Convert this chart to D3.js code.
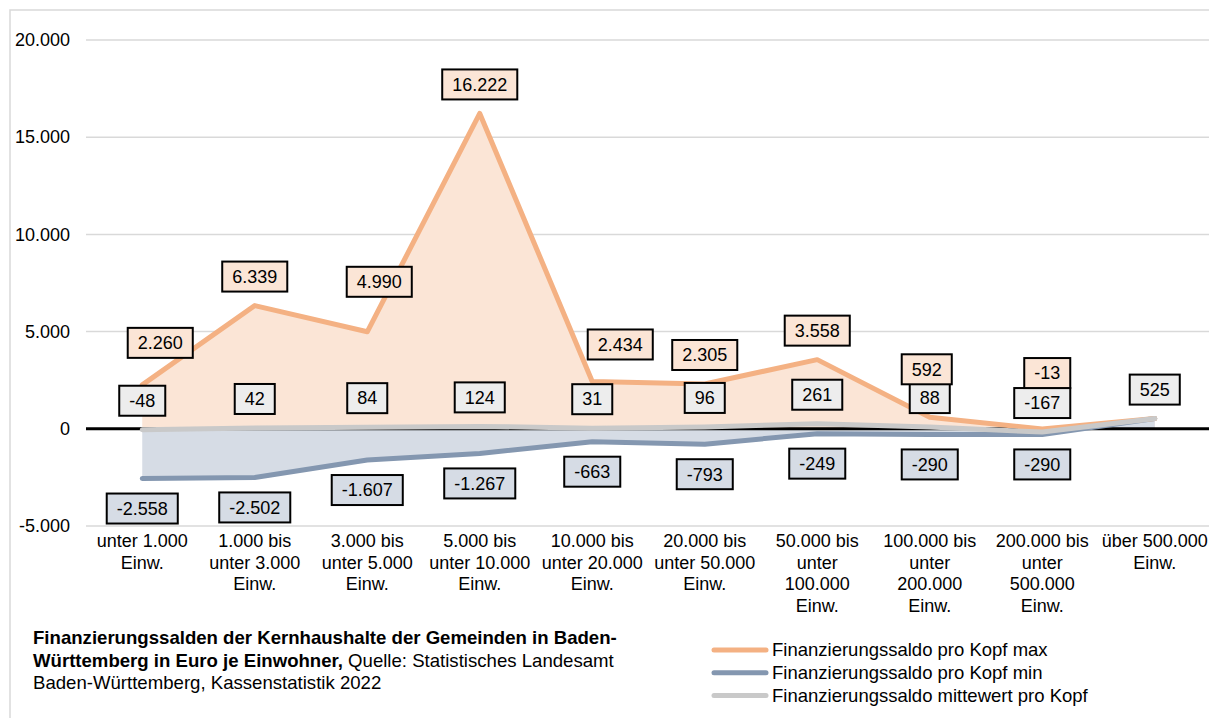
<!DOCTYPE html>
<html>
<head>
<meta charset="utf-8">
<script src="https://cdn.jsdelivr.net/npm/d3@7"></script>
<style>
  body { margin: 0; background: #fff; }
  text { font-family: "Liberation Sans", Arial, sans-serif; fill: #000; }
  .narrow { font-family: "Liberation Sans Narrow", "Arial Narrow", "Liberation Sans", sans-serif; }
</style>
</head>
<body>
<div id="chart"></div>
<script>
const categories = [
  "unter 1.000\nEinw.",
  "1.000 bis\nunter 3.000\nEinw.",
  "3.000 bis\nunter 5.000\nEinw.",
  "5.000 bis\nunter 10.000\nEinw.",
  "10.000 bis\nunter 20.000\nEinw.",
  "20.000 bis\nunter 50.000\nEinw.",
  "50.000 bis\nunter\n100.000\nEinw.",
  "100.000 bis\nunter\n200.000\nEinw.",
  "200.000 bis\nunter\n500.000\nEinw.",
  "über 500.000\nEinw."
]
const maxValues = [2260, 6339, 4990, 16222, 2434, 2305, 3558, 592, -13, 525]
const minValues = [-2558, -2502, -1607, -1267, -663, -793, -249, -290, -290, 525]
const meanValues = [-48, 42, 84, 124, 31, 96, 261, 88, -167, 525]
const yTicks = [-5000, 0, 5000, 10000, 15000, 20000]
const seriesNames = [
  "Finanzierungssaldo pro Kopf max",
  "Finanzierungssaldo pro Kopf min",
  "Finanzierungssaldo mittewert pro Kopf"
]

// manual label nudges (like hand-moved labels in the original), null = label hidden
const maxNudge = [[18, -13], [0, 0], [12, -21], [0, 0], [28, -8], [0, 0], [0, 0], [-3, -19], [5, -27], null]
const minNudge = [[0, 0], [0, 0], [0, 0], [0, 0], [0, 0], [0, 0], [0, 0], [0, 0], [0, 0], null]

const colors = {
  max: "#f4b183", maxFill: "#fbe5d6",
  min: "#8497b0", minFill: "#d6dce5",
  mean: "#c9c9c9", meanFill: "#ededed"
}

const width = 1209
const height = 718

const de = d3.formatLocale({ decimal: ",", thousands: ".", grouping: [3], currency: ["", " €"], minus: "-" })
const fmt = de.format(",d")

const svg = d3.select("#chart")
  .append("svg")
  .attr("width", width)
  .attr("height", height)

svg.append("rect")
  .attr("x", 10).attr("y", 10)
  .attr("width", width + 20).attr("height", height + 20)
  .attr("fill", "#fff")
  .attr("stroke", "#d9d9d9")
  .attr("stroke-width", 1.5)

const x = d3.scalePoint()
  .domain(d3.range(categories.length))
  .range([86, 1211])
  .padding(0.5)

const y = d3.scaleLinear()
  .domain([-5000, 20000])
  .range([526, 40])

// gridlines
svg.append("g")
  .selectAll("line")
  .data(yTicks.filter(d => d !== 0))
  .join("line")
  .attr("x1", 86).attr("x2", width)
  .attr("y1", d => y(d)).attr("y2", d => y(d))
  .attr("stroke", "#d9d9d9")
  .attr("stroke-width", 1.5)

// y labels
const yAxis = d3.axisLeft(y).tickValues(yTicks).tickFormat(fmt).tickSize(0).tickPadding(0)
const gy = svg.append("g").attr("transform", "translate(70,0)").call(yAxis)
gy.select(".domain").remove()
gy.selectAll("text").attr("font-size", 18).attr("font-family", "Liberation Sans, Arial, sans-serif").attr("fill", "#000")

// areas
const areaMax = d3.area().x((d, i) => x(i)).y0(y(0)).y1(d => y(d))
const areaMin = d3.area().x((d, i) => x(i)).y0(y(0)).y1(d => y(d))

svg.append("path").datum(maxValues).attr("d", areaMax).attr("fill", colors.maxFill)
svg.append("path").datum(minValues).attr("d", areaMin).attr("fill", colors.minFill)

// zero line
svg.append("line")
  .attr("x1", 86).attr("x2", width)
  .attr("y1", y(0)).attr("y2", y(0))
  .attr("stroke", "#000")
  .attr("stroke-width", 3)

const line = d3.line().x((d, i) => x(i)).y(d => y(d))

const lines = [
  { values: minValues, color: colors.min },
  { values: maxValues, color: colors.max },
  { values: meanValues, color: colors.mean }
]
lines.forEach(s => {
  svg.append("path")
    .datum(s.values)
    .attr("d", line)
    .attr("fill", "none")
    .attr("stroke", s.color)
    .attr("stroke-width", 5)
    .attr("stroke-linejoin", "round")
    .attr("stroke-linecap", "round")
})

// x labels
const xl = svg.append("g")
categories.forEach((c, i) => {
  const t = xl.append("text")
    .attr("x", x(i))
    .attr("y", 547)
    .attr("text-anchor", "middle")
    .attr("font-size", 18)
  c.split("\n").forEach((ln, j) => {
    t.append("tspan").attr("x", x(i)).attr("dy", j === 0 ? 0 : 21.5).text(ln)
  })
})

// data labels
const labels = svg.append("g")
function addLabel(val, cx, cy, fill) {
  const g = labels.append("g")
  const rect = g.append("rect")
  const t = g.append("text")
    .attr("x", cx).attr("y", cy)
    .attr("dy", "0.35em")
    .attr("text-anchor", "middle")
    .attr("font-size", 18)
    .text(fmt(val))
  const w = t.node().getComputedTextLength() + 20
  rect.attr("x", cx - w / 2).attr("y", cy - 15)
    .attr("width", w).attr("height", 30)
    .attr("fill", fill)
    .attr("stroke", "#000")
    .attr("stroke-width", 2)
}

minValues.forEach((v, i) => {
  if (!minNudge[i]) return
  addLabel(v, x(i) + minNudge[i][0], y(v) + 30 + minNudge[i][1], colors.minFill)
})
meanValues.forEach((v, i) => {
  addLabel(v, x(i), y(v) - 29, colors.meanFill)
})
maxValues.forEach((v, i) => {
  if (!maxNudge[i]) return
  addLabel(v, x(i) + maxNudge[i][0], y(v) - 29 + maxNudge[i][1], colors.maxFill)
})

// footer note
const note = svg.append("text")
  .attr("class", "narrow")
  .attr("x", 33).attr("y", 644)
  .attr("font-size", 18.6)
note.append("tspan").attr("font-weight", "bold")
  .text("Finanzierungssalden der Kernhaushalte der Gemeinden in Baden-")
note.append("tspan").attr("x", 33).attr("dy", 22.5).attr("font-weight", "bold")
  .text("Württemberg in Euro je Einwohner,")
note.append("tspan").text(" Quelle: Statistisches Landesamt")
note.append("tspan").attr("x", 33).attr("dy", 22.5)
  .text("Baden-Württemberg, Kassenstatistik 2022")

// legend
const legendColors = [colors.max, colors.min, colors.mean]
const legend = svg.append("g")
seriesNames.forEach((name, i) => {
  const ly = 650 + i * 22.8
  legend.append("line")
    .attr("x1", 714).attr("x2", 766)
    .attr("y1", ly).attr("y2", ly)
    .attr("stroke", legendColors[i])
    .attr("stroke-width", 5)
    .attr("stroke-linecap", "round")
  legend.append("text")
    .attr("x", 772).attr("y", ly)
    .attr("dy", "0.35em")
    .attr("font-size", 18.5)
    .text(name)
})
</script>
</body>
</html>
